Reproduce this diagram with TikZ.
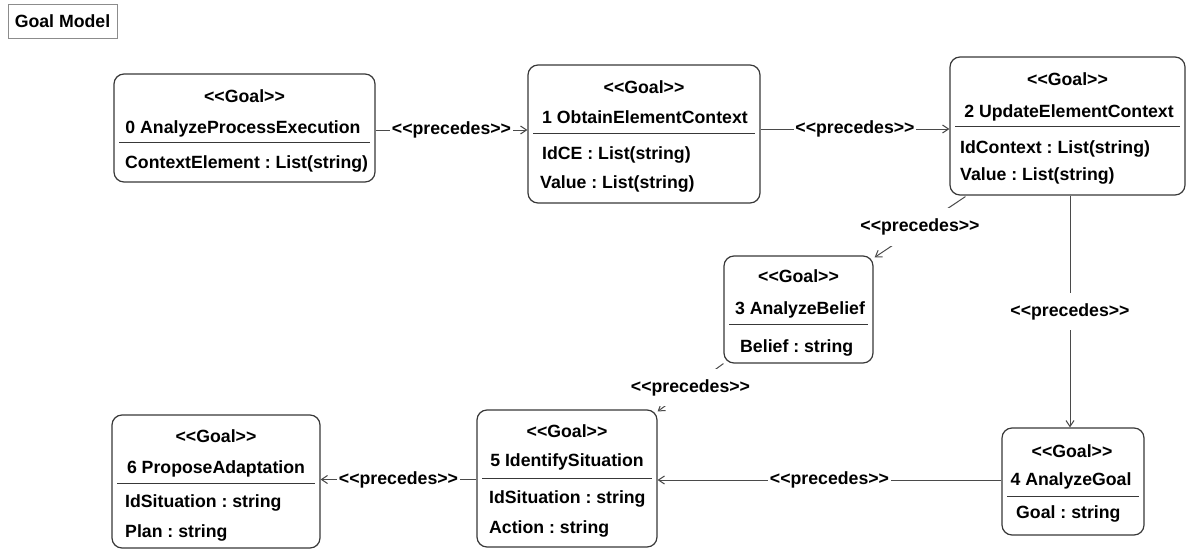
\documentclass[tikz,border=0pt]{standalone}
\usepackage{fontspec}
% plain family without TeX ligature mapping, so << and >> stay as typed
\newfontfamily\umlfont{Liberation Sans}
\usetikzlibrary{arrows.meta,calc}
\definecolor{boxgray}{HTML}{383838}
\definecolor{linegray}{HTML}{4A4A4A}
\definecolor{framegray}{HTML}{8C8C8C}
\frenchspacing

\begin{document}
\begin{tikzpicture}[x=1pt,y=-1pt,
  goalbox/.style={draw=boxgray,line width=1.2pt,rounded corners=10pt,inner sep=0pt},
  txt/.style={font=\umlfont\bfseries\fontsize{17.7}{20}\selectfont,inner sep=0pt,anchor=base},
  attr/.style={txt,anchor=base west},
  sepline/.style={draw=boxgray,line width=0.9pt},
  flow/.style={draw=linegray,line width=1pt,-{Straight Barb[length=6pt,width=8pt]}},
  lbl/.style={txt,anchor=center,fill=white,inner xsep=1.5pt,inner ysep=10.5pt}
]
\useasboundingbox (0,0) rectangle (1186,549);

% diagram title
\node[draw=framegray,line width=1pt,minimum width=109pt,minimum height=34pt,
      inner sep=0pt,font=\umlfont\bfseries\fontsize{17.7}{20}\selectfont]
      (frame) at (62.5,21) {Goal Model};

% ---- goal boxes ----
% 0 AnalyzeProcessExecution
\node[goalbox,minimum width=261pt,minimum height=108pt] (b0) at (244.5,128) {};
\node[txt] (b0s) at (244.5,102) {<<Goal>>};
\node[txt] (b0n) at (243,133) {0 AnalyzeProcessExecution};
\draw[sepline] (119,142) -- (370,142);
\node[attr] (b0a) at (125,168) {ContextElement : List(string)};

% 1 ObtainElementContext
\node[goalbox,minimum width=232pt,minimum height=138pt] (b1) at (644,134) {};
\node[txt] (b1s) at (644,93) {<<Goal>>};
\node[txt] (b1n) at (645,123) {1 ObtainElementContext};
\draw[sepline] (533,133) -- (755,133);
\node[attr] (b1a) at (542,159) {IdCE : List(string)};
\node[attr] (b1b) at (540,188) {Value : List(string)};

% 2 UpdateElementContext
\node[goalbox,minimum width=235pt,minimum height=138pt] (b2) at (1067.5,126) {};
\node[txt] (b2s) at (1067.5,85) {<<Goal>>};
\node[txt] (b2n) at (1069,117) {2 UpdateElementContext};
\draw[sepline] (955,126) -- (1180,126);
\node[attr] (b2a) at (960,153) {IdContext : List(string)};
\node[attr] (b2b) at (960,180) {Value : List(string)};

% 3 AnalyzeBelief
\node[goalbox,minimum width=149pt,minimum height=107pt] (b3) at (798.5,309.5) {};
\node[txt] (b3s) at (798.5,282) {<<Goal>>};
\node[txt] (b3n) at (800,314) {3 AnalyzeBelief};
\draw[sepline] (729,324) -- (868,324);
\node[attr] (b3a) at (740,352) {Belief : string};

% 4 AnalyzeGoal
\node[goalbox,minimum width=142pt,minimum height=107pt] (b4) at (1073,481.5) {};
\node[txt] (b4s) at (1072,457) {<<Goal>>};
\node[txt] (b4n) at (1071,485) {4 AnalyzeGoal};
\draw[sepline] (1007,496) -- (1139,496);
\node[attr] (b4a) at (1016,518) {Goal : string};

% 5 IdentifySituation
\node[goalbox,minimum width=180pt,minimum height=137pt] (b5) at (567,478.5) {};
\node[txt] (b5s) at (567,437) {<<Goal>>};
\node[txt] (b5n) at (567,466) {5 IdentifySituation};
\draw[sepline] (482,478) -- (652,478);
\node[attr] (b5a) at (489,503) {IdSituation : string};
\node[attr] (b5b) at (489,533) {Action : string};

% 6 ProposeAdaptation
\node[goalbox,minimum width=208pt,minimum height=133pt] (b6) at (216,481.5) {};
\node[txt] (b6s) at (216,442) {<<Goal>>};
\node[txt] (b6n) at (216,473) {6 ProposeAdaptation};
\draw[sepline] (117,483) -- (315,483);
\node[attr] (b6a) at (125,507) {IdSituation : string};
\node[attr] (b6b) at (125,537) {Plan : string};

% ---- precedence connectors ----
\coordinate (c01) at ([yshift=-2pt]b0.east);
\draw[flow] (c01) -- (c01 -| b1.west) node[lbl,midway] (p01) {<<precedes>>};

\coordinate (c12) at ([yshift=5pt]b1.east);
\draw[flow] (c12) -- (c12 -| b2.west) node[lbl,midway] (p12) {<<precedes>>};

\coordinate (c24) at ([xshift=2.5pt]b2.south);
\draw[flow] (c24) -- (c24 |- b4.north) node[lbl,midway] (p24) {<<precedes>>};

\coordinate (c23) at ([xshift=16pt,yshift=-1pt]b2.south west);
\coordinate (e23) at ([xshift=1pt,yshift=-2pt]b3.north east);
\draw[flow] (c23) -- (e23) node[lbl,midway] (p23) {<<precedes>>};

\coordinate (c35) at (b3.south west);
\coordinate (e35) at ([yshift=-2pt]b5.north east);
\draw[flow] (c35) -- (e35) node[lbl,midway] (p35) {<<precedes>>};

\coordinate (c45) at ([yshift=1.5pt]b4.west);
\draw[flow] (c45) -- (c45 -| b5.east) node[lbl,midway] (p45) {<<precedes>>};

\coordinate (c56) at ([yshift=-1pt]b5.west);
\draw[flow] (c56) -- (c56 -| b6.east) node[lbl,midway] (p56) {<<precedes>>};
\end{tikzpicture}
\end{document}
